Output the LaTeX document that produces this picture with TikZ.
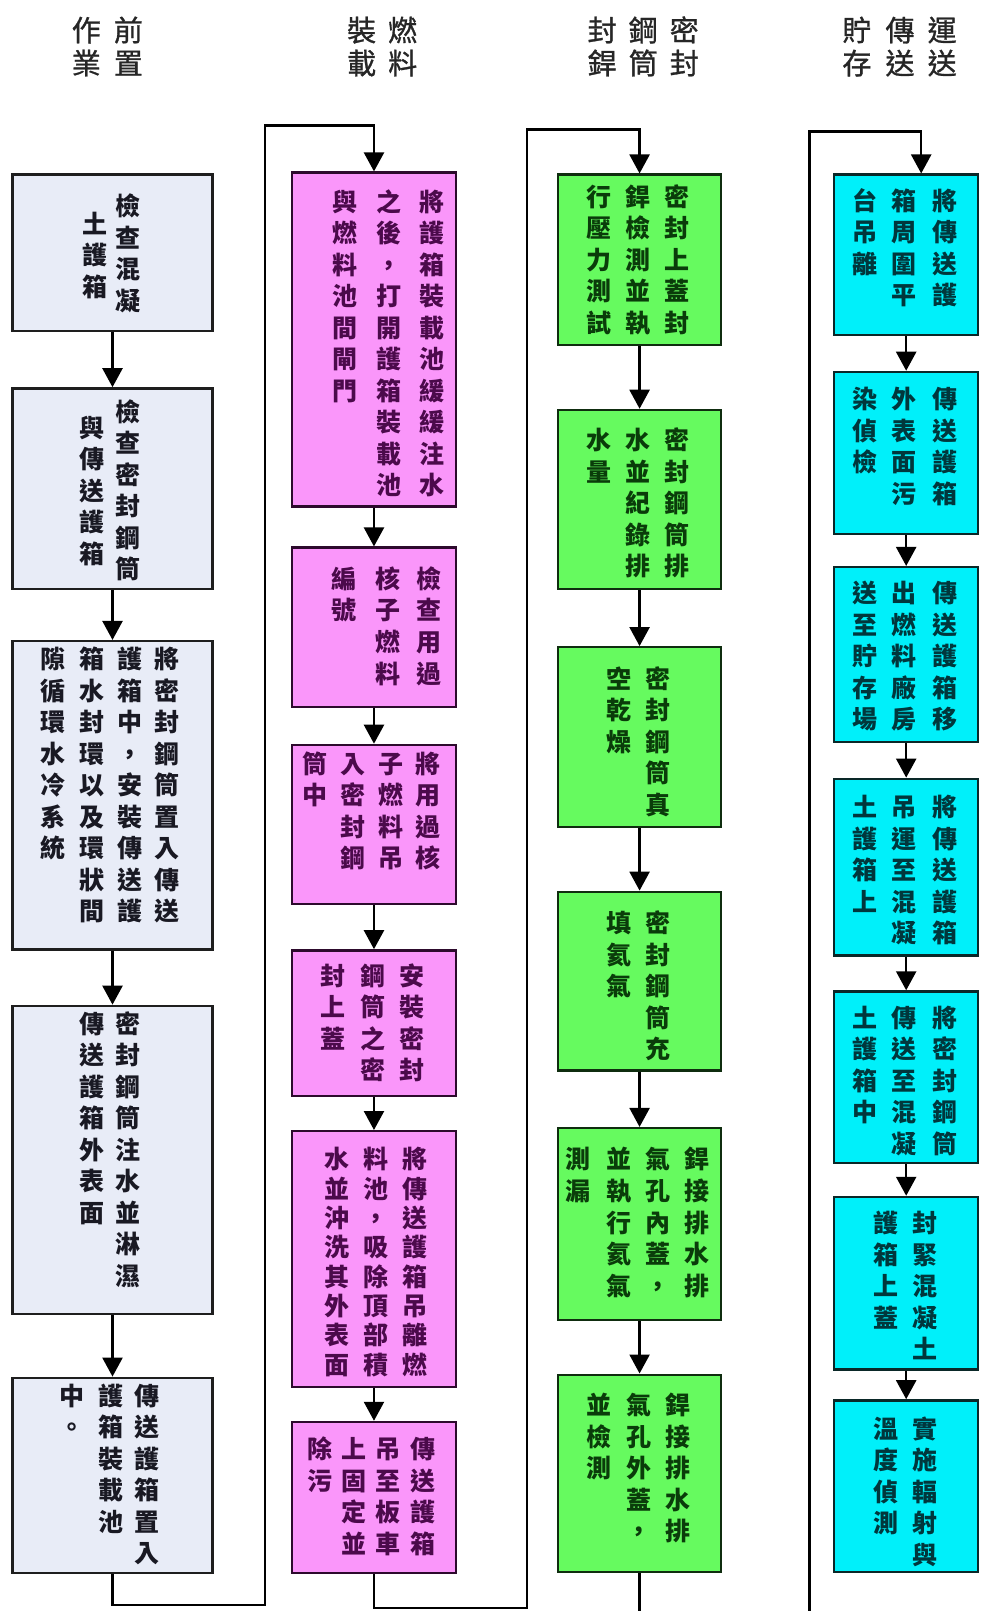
\documentclass[tikz,border=0pt]{standalone}
\usepackage{fontspec}
\newfontfamily\cjk{Noto Sans CJK TC}
\newfontfamily\cjkh[FakeBold=1]{Noto Sans CJK TC}
\usetikzlibrary{arrows.meta,fit}
\definecolor{fA}{RGB}{232,236,247}
\definecolor{fB}{RGB}{250,150,250}
\definecolor{fC}{RGB}{102,250,95}
\definecolor{fD}{RGB}{0,240,250}
\definecolor{tA}{RGB}{25,25,35}
\definecolor{tB}{RGB}{75,10,75}
\definecolor{tC}{RGB}{10,60,10}
\definecolor{tD}{RGB}{0,55,60}
\definecolor{dA}{RGB}{30,30,30}
\definecolor{dB}{RGB}{45,10,45}
\definecolor{dC}{RGB}{15,45,15}
\definecolor{dD}{RGB}{10,40,40}
\makeatletter
\newlength\vc@p
\newcommand\vcol[2][31.5pt]{\vtop{\offinterlineskip\setlength\vc@p{#1}\vc@loop#2\vc@end}}
\def\vc@end{}
\def\vc@loop#1{\ifx#1\vc@end\else\vc@one{#1}\expandafter\vc@loop\fi}
\def\vc@one#1{\hbox to 1.2em{\hss\vbox to \vc@p{\vss\hbox{\vrule width0pt height .88em depth .12em\smash{#1}}\vss}\hss}}
\makeatother
\tikzset{
  bx/.style={inner sep=0pt, line width=2.4pt},
  bxA/.style={bx, draw=dA, fill=fA},
  bxB/.style={bx, draw=dB, fill=fB},
  bxC/.style={bx, draw=dC, fill=fC},
  bxD/.style={bx, draw=dD, fill=fD},
  tx/.style={anchor=north, inner sep=0pt, font={\cjk\bfseries\fontsize{25pt}{30pt}\selectfont}},
  txA/.style={tx, text=tA},
  txB/.style={tx, text=tB},
  txC/.style={tx, text=tC},
  txD/.style={tx, text=tD},
  hd/.style={anchor=north, inner sep=0pt, text=black!85, font={\cjkh\fontsize{29pt}{33pt}\selectfont}},
  conn/.style={line width=2.4pt, draw=black, -{Triangle[length=19pt,width=20pt]}},
}
\begin{document}
\begin{tikzpicture}[x=1.0273pt, y=-1.0273pt]
\path[use as bounding box, fill=white] (0,0) rectangle (954,1568);
\clip (0,0) rectangle (954,1568);
% headers
\node[hd] (h1a) at (125,13) {\vcol[33pt]{前置}};
\node[hd] (h1b) at (84,13) {\vcol[33pt]{作業}};
\node[hd] (h2a) at (392,13) {\vcol[33pt]{燃料}};
\node[hd] (h2b) at (352,13) {\vcol[33pt]{裝載}};
\node[hd] (h3a) at (666,13) {\vcol[33pt]{密封}};
\node[hd] (h3b) at (626,13) {\vcol[33pt]{鋼筒}};
\node[hd] (h3c) at (586,13) {\vcol[33pt]{封銲}};
\node[hd] (h4a) at (917,13) {\vcol[33pt]{運送}};
\node[hd] (h4b) at (876,13) {\vcol[33pt]{傳送}};
\node[hd] (h4c) at (834,13) {\vcol[33pt]{貯存}};
% column 1 boxes
\node[bxA, fit={(12,170)(207,322)}] (a1) {};
\node[bxA, fit={(12,378)(207,573)}] (a2) {};
\node[bxA, fit={(12,624)(207,924)}] (a3) {};
\node[bxA, fit={(12,979)(207,1279)}] (a4) {};
\node[bxA, fit={(12,1341)(207,1531)}] (a5) {};
% column 2 boxes
\node[bxB, fit={(284,168)(444,493)}] (b1) {};
\node[bxB, fit={(284,533)(444,688)}] (b2) {};
\node[bxB, fit={(284,725)(444,880)}] (b3) {};
\node[bxB, fit={(284,925)(444,1067)}] (b4) {};
\node[bxB, fit={(284,1101)(444,1350)}] (b5) {};
\node[bxB, fit={(284,1384)(444,1531)}] (b6) {};
% column 3 boxes
\node[bxC, fit={(543,170)(702,336)}] (c1) {};
\node[bxC, fit={(543,399)(702,573)}] (c2) {};
\node[bxC, fit={(543,630)(702,805)}] (c3) {};
\node[bxC, fit={(543,868)(702,1042)}] (c4) {};
\node[bxC, fit={(543,1098)(702,1285)}] (c5) {};
\node[bxC, fit={(543,1338)(702,1530)}] (c6) {};
% column 4 boxes
\node[bxD, fit={(812,170)(952,326)}] (d1) {};
\node[bxD, fit={(812,362)(952,520)}] (d2) {};
\node[bxD, fit={(812,552)(952,722)}] (d3) {};
\node[bxD, fit={(812,758)(952,930)}] (d4) {};
\node[bxD, fit={(812,965)(952,1132)}] (d5) {};
\node[bxD, fit={(812,1165)(952,1333)}] (d6) {};
\node[bxD, fit={(812,1363)(952,1530)}] (d7) {};
% column 1 texts
\node[txA] (a1t1) at (125,185) {\vcol{檢查混凝}};
\node[txA] (a1t2) at (92,202) {\vcol{土護箱}};
\node[txA] (a2t1) at (125,385) {\vcol{檢查密封鋼筒}};
\node[txA] (a2t2) at (90,401) {\vcol{與傳送護箱}};
\node[txA] (a3t1) at (163,626) {\vcol{將密封鋼筒置入傳送}};
\node[txA] (a3t2) at (127,626) {\vcol{護箱中，安裝傳送護}};
\node[txA] (a3t3) at (90,626) {\vcol{箱水封環以及環狀間}};
\node[txA] (a3t4) at (52,626) {\vcol{隙循環水冷系統}};
\node[txA] (a4t1) at (125,981) {\vcol{密封鋼筒注水並淋濕}};
\node[txA] (a4t2) at (90,981) {\vcol{傳送護箱外表面}};
\node[txA] (a5t1) at (143,1343) {\vcol{傳送護箱置入}};
\node[txA] (a5t2) at (108,1343) {\vcol{護箱裝載池}};
\node[txA] (a5t3) at (70,1343) {\vcol{中。}};
% column 2 texts
\node[txB] (b1t1) at (420,181) {\vcol{將護箱裝載池緩緩注水}};
\node[txB] (b1t2) at (379,181) {\vcol{之後，打開護箱裝載池}};
\node[txB] (b1t3) at (336,181) {\vcol{與燃料池間閘門}};
\node[txB] (b2t1) at (418,548) {\vcol{檢查用過}};
\node[txB] (b2t2) at (378,548) {\vcol{核子燃料}};
\node[txB] (b2t3) at (335,548) {\vcol{編號}};
\node[txB] (b3t1) at (417,728) {\vcol{將用過核}};
\node[txB] (b3t2) at (381,728) {\vcol{子燃料吊}};
\node[txB] (b3t3) at (344,728) {\vcol{入密封鋼}};
\node[txB] (b3t4) at (307,728) {\vcol{筒中}};
\node[txB] (b4t1) at (401,934) {\vcol{安裝密封}};
\node[txB] (b4t2) at (363,934) {\vcol{鋼筒之密}};
\node[txB] (b4t3) at (324,934) {\vcol{封上蓋}};
\node[txB] (b5t1) at (404,1114) {\vcol[29.3pt]{將傳送護箱吊離燃}};
\node[txB] (b5t2) at (366,1114) {\vcol[29.3pt]{料池，吸除頂部積}};
\node[txB] (b5t3) at (328,1114) {\vcol[29.3pt]{水並沖洗其外表面}};
\node[txB] (b6t1) at (412,1395) {\vcol{傳送護箱}};
\node[txB] (b6t2) at (378,1395) {\vcol{吊至板車}};
\node[txB] (b6t3) at (345,1395) {\vcol{上固定並}};
\node[txB] (b6t4) at (311,1395) {\vcol{除污}};
% column 3 texts
\node[txC] (c1t1) at (659,176) {\vcol{密封上蓋封}};
\node[txC] (c1t2) at (621,176) {\vcol{銲檢測並執}};
\node[txC] (c1t3) at (583,176) {\vcol{行壓力測試}};
\node[txC] (c2t1) at (659,413) {\vcol{密封鋼筒排}};
\node[txC] (c2t2) at (621,413) {\vcol{水並紀錄排}};
\node[txC] (c2t3) at (583,413) {\vcol{水量}};
\node[txC] (c3t1) at (640,645) {\vcol{密封鋼筒真}};
\node[txC] (c3t2) at (602,645) {\vcol{空乾燥}};
\node[txC] (c4t1) at (640,883) {\vcol{密封鋼筒充}};
\node[txC] (c4t2) at (602,883) {\vcol{填氦氣}};
\node[txC] (c5t1) at (678,1113) {\vcol{銲接排水排}};
\node[txC] (c5t2) at (640,1113) {\vcol{氣孔內蓋，}};
\node[txC] (c5t3) at (602,1113) {\vcol{並執行氦氣}};
\node[txC] (c5t4) at (563,1113) {\vcol{測漏}};
\node[txC] (c6t1) at (660,1352) {\vcol{銲接排水排}};
\node[txC] (c6t2) at (622,1352) {\vcol{氣孔外蓋，}};
\node[txC] (c6t3) at (583,1352) {\vcol{並檢測}};
% column 4 texts
\node[txD] (d1t1) at (920,180) {\vcol{將傳送護}};
\node[txD] (d1t2) at (880,180) {\vcol{箱周圍平}};
\node[txD] (d1t3) at (842,180) {\vcol{台吊離}};
\node[txD] (d2t1) at (920,373) {\vcol{傳送護箱}};
\node[txD] (d2t2) at (880,373) {\vcol{外表面污}};
\node[txD] (d2t3) at (842,373) {\vcol{染偵檢}};
\node[txD] (d3t1) at (920,562) {\vcol{傳送護箱移}};
\node[txD] (d3t2) at (880,562) {\vcol{出燃料廠房}};
\node[txD] (d3t3) at (842,562) {\vcol{送至貯存場}};
\node[txD] (d4t1) at (920,770) {\vcol{將傳送護箱}};
\node[txD] (d4t2) at (880,770) {\vcol{吊運至混凝}};
\node[txD] (d4t3) at (842,770) {\vcol{土護箱上}};
\node[txD] (d5t1) at (920,975) {\vcol{將密封鋼筒}};
\node[txD] (d5t2) at (880,975) {\vcol{傳送至混凝}};
\node[txD] (d5t3) at (842,975) {\vcol{土護箱中}};
\node[txD] (d6t1) at (900,1175) {\vcol{封緊混凝土}};
\node[txD] (d6t2) at (862,1175) {\vcol{護箱上蓋}};
\node[txD] (d7t1) at (900,1375) {\vcol{實施輻射與}};
\node[txD] (d7t2) at (862,1375) {\vcol{溫度偵測}};
% connectors within columns
\draw[conn] (a1) -- (a2);
\draw[conn] (a2) -- (a3);
\draw[conn] (a3) -- (a4);
\draw[conn] (a4) -- (a5);
\draw[conn] (b1) -- (b2);
\draw[conn] (b2) -- (b3);
\draw[conn] (b3) -- (b4);
\draw[conn] (b4) -- (b5);
\draw[conn] (b5) -- (b6);
\draw[conn] (c1) -- (c2);
\draw[conn] (c2) -- (c3);
\draw[conn] (c3) -- (c4);
\draw[conn] (c4) -- (c5);
\draw[conn] (c5) -- (c6);
\draw[conn] (d1) -- (d2);
\draw[conn] (d2) -- (d3);
\draw[conn] (d3) -- (d4);
\draw[conn] (d4) -- (d5);
\draw[conn] (d5) -- (d6);
\draw[conn] (d6) -- (d7);
% connectors between columns
\coordinate (k1) at (258,1562);
\coordinate (k2) at (258,122);
\coordinate (k3) at (513,1565);
\coordinate (k4) at (513,126);
\coordinate (k5) at (788,1600);
\coordinate (k6) at (788,128);
\draw[conn] (a5) |- (k1) -- (k2) -| (b1);
\draw[conn] (b6) |- (k3) -- (k4) -| (c1);
\draw[conn] (c6) |- (k5) -- (k6) -| ([xshift=15pt]d1.north);
\end{tikzpicture}
\end{document}
